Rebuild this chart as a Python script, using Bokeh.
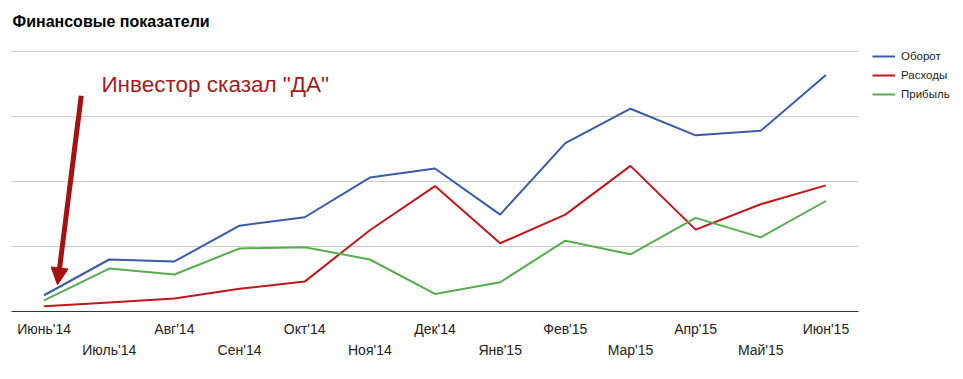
from bokeh.plotting import figure
from bokeh.models import (Range1d, LinearAxis, FixedTicker, Grid, Legend, LegendItem,
                          Label, Arrow, NormalHead)
from bokeh.embed import file_html
from bokeh.resources import INLINE

# ---- data ----
months = ["Июнь'14", "Июль'14", "Авг'14", "Сен'14", "Окт'14", "Ноя'14", "Дек'14",
          "Янв'15", "Фев'15", "Мар'15", "Апр'15", "Май'15", "Июн'15"]
oborot = [25, 80, 77, 132, 145, 206, 220, 149, 259, 312, 271, 278, 364]
rashody = [8, 14, 20, 35, 46, 125, 193, 105, 149, 224, 126, 165, 194]
pribyl = [17, 66, 57, 97, 99, 80, 27, 45, 109, 88, 144, 114, 170]
series_names = ["Оборот", "Расходы", "Прибыль"]
grid_ticks = [100, 200, 300, 400]
y_max = 400
annotation_text = 'Инвестор сказал "ДА"'
title_text = "Финансовые показатели"

colors = ["#3b5ba6", "#c0171b", "#5aac50"]
FONT = "Liberation Sans"

# ---- layout constants (pixels) ----
W, H = 963, 379
left, chart_right, axis_y, chart_top = 11, 858, 311, 51

n = len(months)
x = list(range(n))
x0, x1 = -0.5, n - 0.5
px_per_x = (chart_right - left) / (x1 - x0)
px_per_y = (axis_y - chart_top) / y_max
x_end = x0 + (W - left) / px_per_x
y_end = axis_y / px_per_y

p = figure(width=W, height=H, output_backend="svg", toolbar_location=None,
           x_range=Range1d(x0, x_end), y_range=Range1d(0, y_end),
           x_axis_location=None, y_axis_location=None,
           min_border_left=left, min_border_right=0, min_border_top=0,
           min_border_bottom=H - axis_y,
           outline_line_color=None, background_fill_color="white", border_fill_color="white")
p.xgrid.visible = False
p.ygrid.visible = False
p.title.visible = False

g = Grid(dimension=1, ticker=FixedTicker(ticks=grid_ticks), grid_line_color="#cccccc",
         grid_line_width=1, cross_bounds=(x0, x1))
p.add_layout(g, "center")

renderers = []
for vals, c in zip([oborot, rashody, pribyl], colors):
    r = p.line(x, vals, line_color=c, line_width=2)
    renderers.append(r)

# x axes: two staggered rows
even = [i for i in x if i % 2 == 0]
odd = [i for i in x if i % 2 == 1]

ax1 = LinearAxis(ticker=FixedTicker(ticks=even), bounds=(x0, x1),
                 major_label_overrides={i: months[i] for i in even})
ax2 = LinearAxis(ticker=FixedTicker(ticks=odd), bounds=(x0, x1),
                 major_label_overrides={i: months[i] for i in odd})
for ax in (ax1, ax2):
    ax.major_tick_line_color = None
    ax.minor_tick_line_color = None
    ax.major_tick_out = 0
    ax.major_tick_in = 0
    ax.minor_tick_out = 0
    ax.minor_tick_in = 0
    ax.major_label_text_font = FONT
    ax.major_label_text_font_size = "14px"
    ax.major_label_text_color = "#222222"
ax1.axis_line_color = "#333333"
ax1.axis_line_width = 1
ax1.major_label_standoff = 9
ax2.axis_line_color = None
ax2.major_label_standoff = 2
p.add_layout(ax1, "below")
p.add_layout(ax2, "below")

legend = Legend(items=[LegendItem(label=s, renderers=[r]) for s, r in zip(series_names, renderers)],
                location=(872 - left, axis_y - 50.3 - 50), padding=0, margin=0, spacing=7,
                glyph_width=23, glyph_height=12, label_height=12, label_standoff=6,
                label_text_font=FONT, label_text_font_size="11.5px", label_text_color="#222222",
                border_line_color=None, background_fill_alpha=0)
p.add_layout(legend)

p.add_layout(Label(x=1, y=axis_y - 20.5, x_units="screen", y_units="screen", text=title_text,
                   text_font=FONT, text_font_style="bold", text_font_size="16px",
                   text_color="#000000", text_baseline="alphabetic"))

p.add_layout(Label(x=0.88, y=350, text=annotation_text, text_font=FONT,
                   text_font_size="22.5px", text_color="#a51c1c", text_baseline="alphabetic"))

p.add_layout(Arrow(x_start=0.57, y_start=332, x_end=0.206, y_end=41,
                   line_color="#a51010", line_width=5,
                   end=NormalHead(size=17, fill_color="#a51010", line_color="#a51010")))

open("out.html", "w").write(file_html(p, INLINE))
